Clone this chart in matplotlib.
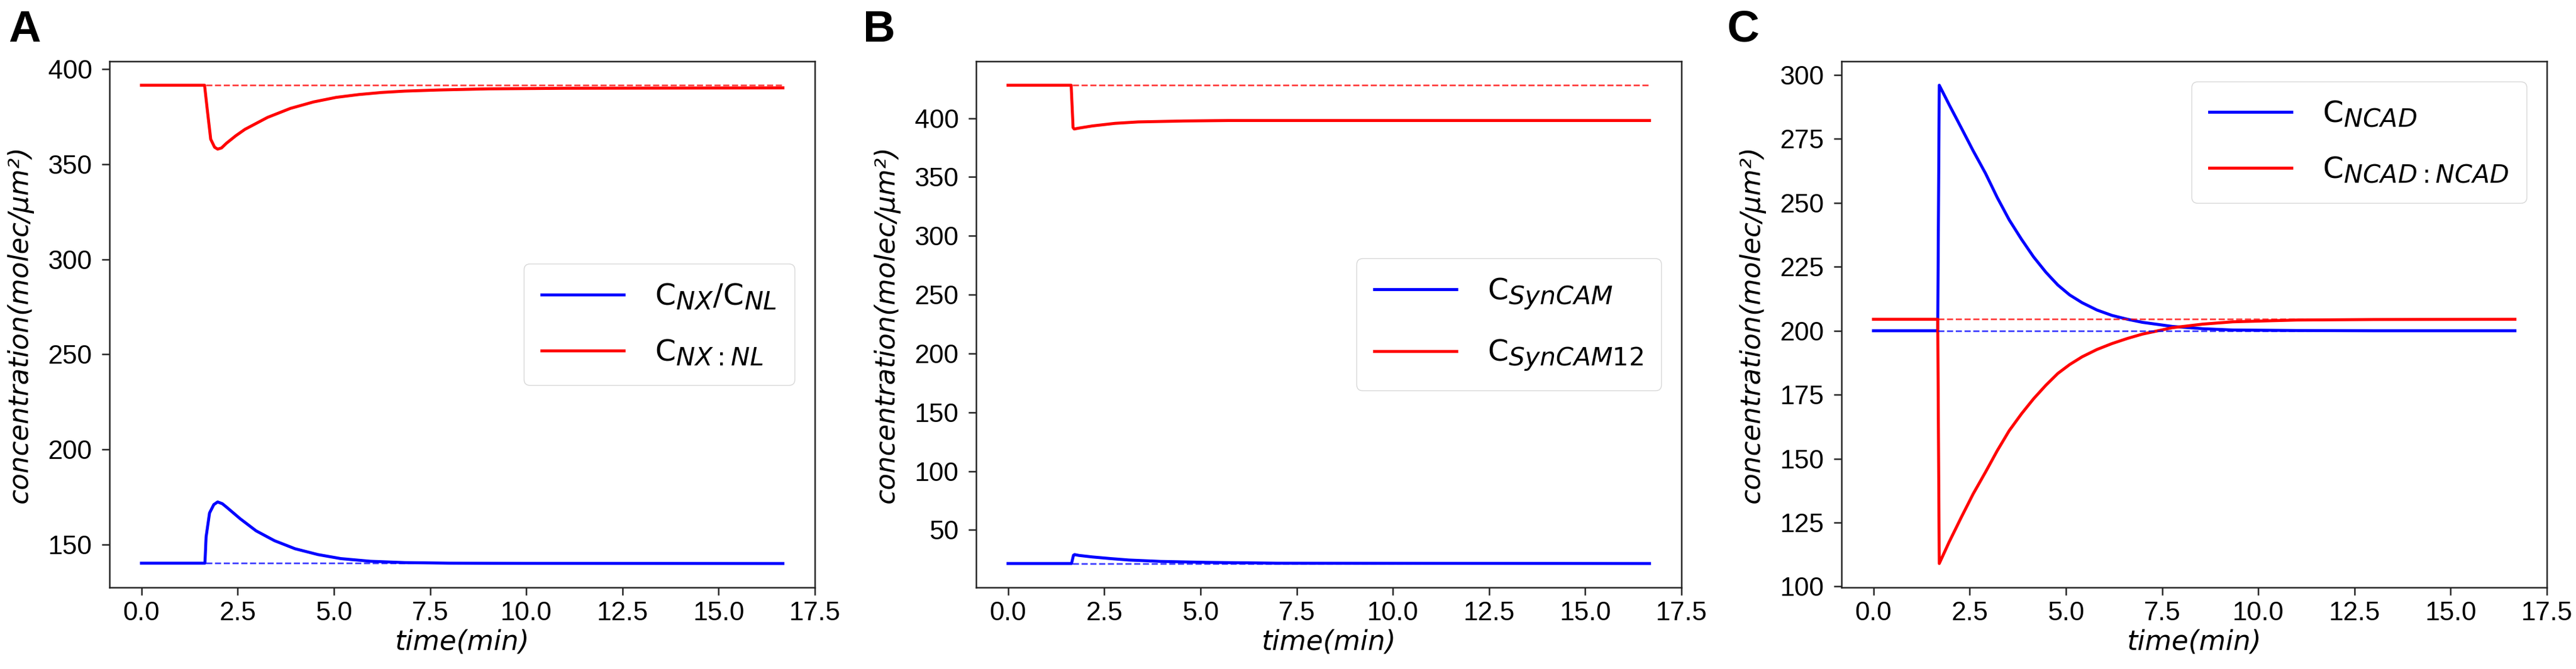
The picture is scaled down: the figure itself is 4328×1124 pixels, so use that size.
import numpy as np
import matplotlib.pyplot as plt
import matplotlib._mathtext as mathtext_mod

plt.rcParams['font.family'] = ['Liberation Sans', 'DejaVu Sans']
plt.rcParams['mathtext.fontset'] = 'dejavusans'
# subscripts in the legend are drawn large in the original
mathtext_mod.SHRINK_FACTOR = 0.85

# time axis shared by all panels (min); stimulus near 1.67 min, end 16.67 min
stim_t = 1.67
t_end = 16.67

# panel A : C_NX/C_NL (blue) and C_NX:NL (red)
a_blue_t = [0, 1.65, 1.68, 1.77, 1.88, 1.98, 2.10, 2.21, 2.57, 2.98, 3.46, 3.99, 4.59, 5.18, 5.95, 6.84, 8.0, 10.0, 16.67]
a_blue_v = [140.2, 140.2, 154.0, 166.6, 171.0, 172.4, 171.5, 169.7, 163.5, 157.2, 152.0, 147.8, 144.7, 142.6, 141.2, 140.5, 140.2, 140.1, 140.0]
a_red_t = [0, 1.64, 1.71, 1.80, 1.90, 1.98, 2.08, 2.21, 2.45, 2.69, 3.28, 3.87, 4.47, 5.06, 5.65, 6.25, 6.84, 7.73, 9.02, 11.0, 16.67]
a_red_v = [391.6, 391.6, 378.9, 363.2, 359.0, 358.0, 358.6, 361.1, 365.0, 368.4, 374.7, 379.4, 382.8, 385.2, 386.7, 387.8, 388.5, 389.1, 389.7, 390.0, 390.2]
a_base = [140.2, 391.6]
a_labels = [r'$\mathrm{C}_{NX}/\mathrm{C}_{NL}$', r'$\mathrm{C}_{NX:NL}$']

# panel B : C_SynCAM (blue) and C_SynCAM12 (red)
b_blue_t = [0, 1.65, 1.70, 1.73, 1.84, 2.19, 2.67, 3.14, 3.97, 5.15, 7.0, 16.67]
b_blue_v = [21.5, 21.5, 28.5, 29.1, 28.4, 27.1, 25.7, 24.5, 23.3, 22.5, 21.8, 21.5]
b_red_t = [0, 1.64, 1.69, 1.72, 1.85, 2.19, 2.78, 3.38, 4.56, 5.74, 9.1, 16.67]
b_red_v = [428.0, 428.0, 392.0, 390.8, 391.6, 393.4, 395.6, 396.8, 397.6, 398.0, 398.0, 398.0]
b_base = [21.5, 428.0]
b_labels = [r'$\mathrm{C}_{SynCAM}$', r'$\mathrm{C}_{SynCAM12}$']

# panel C : C_NCAD (blue) and C_NCAD:NCAD (red)
c_t = [0, 1.67, 1.71, 1.96, 2.28, 2.59, 2.91, 3.22, 3.53, 3.85, 4.16, 4.48, 4.79, 5.10,
       5.42, 5.81, 6.20, 6.60, 6.99, 7.77, 8.56, 9.34, 11.0, 13.0, 16.67]
c_blue_v = [200.0, 200.0, 296.0, 288.6, 279.4, 270.4, 261.6, 252.0, 243.3, 235.7, 228.9, 222.9, 217.9, 214.0,
            211.0, 208.1, 206.0, 204.5, 203.3, 201.7, 200.8, 200.3, 200.1, 200.0, 200.0]
c_red_v = [204.5, 204.5, 109.0, 117.2, 127.0, 136.2, 144.7, 153.2, 161.0, 167.6, 173.4, 178.7, 183.3, 186.8,
           189.8, 192.7, 195.0, 197.0, 198.7, 201.2, 202.6, 203.5, 204.2, 204.4, 204.5]
c_base = [200.0, 204.5]
c_labels = [r'$\mathrm{C}_{NCAD}$', r'$\mathrm{C}_{NCAD:NCAD}$']

panels = [
    ('A', a_blue_t, a_blue_v, a_red_t, a_red_v, a_base, a_labels, 'center right'),
    ('B', b_blue_t, b_blue_v, b_red_t, b_red_v, b_base, b_labels, 'center right'),
    ('C', c_t, c_blue_v, c_t, c_red_v, c_base, c_labels, 'upper right'),
]

W, H = 4328, 1124
fig = plt.figure(figsize=(W / 100, H / 100), dpi=100)

ax_left = [184, 1640, 3094]
ax_w = 1185
ax_top, ax_bot = 103, 987
letter_x = [14, 1450, 2902]

for i, (tag, bt, bv, rt, rv, base, labels, loc) in enumerate(panels):
    ax = fig.add_axes([ax_left[i] / W, (H - ax_bot) / H, ax_w / W, (ax_bot - ax_top) / H])
    ax.plot(bt, bv, color='#0000ff', lw=3.6, label=labels[0])
    ax.plot(rt, rv, color='#ff0000', lw=3.6, label=labels[1])
    ax.plot([stim_t, t_end], [base[0], base[0]], '--', color='#0000ff', lw=2.0, alpha=0.75)
    ax.plot([stim_t, t_end], [base[1], base[1]], '--', color='#ff0000', lw=2.0, alpha=0.75)
    ax.set_xticks(np.arange(0, 17.6, 2.5))
    ax.set_xlim(-0.83, 17.5)
    ax.tick_params(labelsize=32, length=9.4, width=1.8, color='#222222')
    ax.tick_params(axis='y', pad=11.5)
    ax.tick_params(axis='x', pad=7)
    for s in ax.spines.values():
        s.set_linewidth(1.8)
        s.set_color('#222222')
    ax.set_xlabel('time(min)', fontsize=33, family='DejaVu Sans', style='italic', labelpad=4)
    ax.set_ylabel('concentration(molec/μm²)', fontsize=33, family='DejaVu Sans',
                  style='italic', labelpad=18)
    ax.legend(loc=loc, fontsize=36, handlelength=2.75, handletextpad=1.05,
              labelspacing=0.9, borderaxespad=0.68, borderpad=0.6)
    fig.text(letter_x[i] / W, 1 - 16 / H, tag, fontsize=54, fontweight='bold',
             ha='left', va='top')

fig.savefig('out.png', dpi=100)
